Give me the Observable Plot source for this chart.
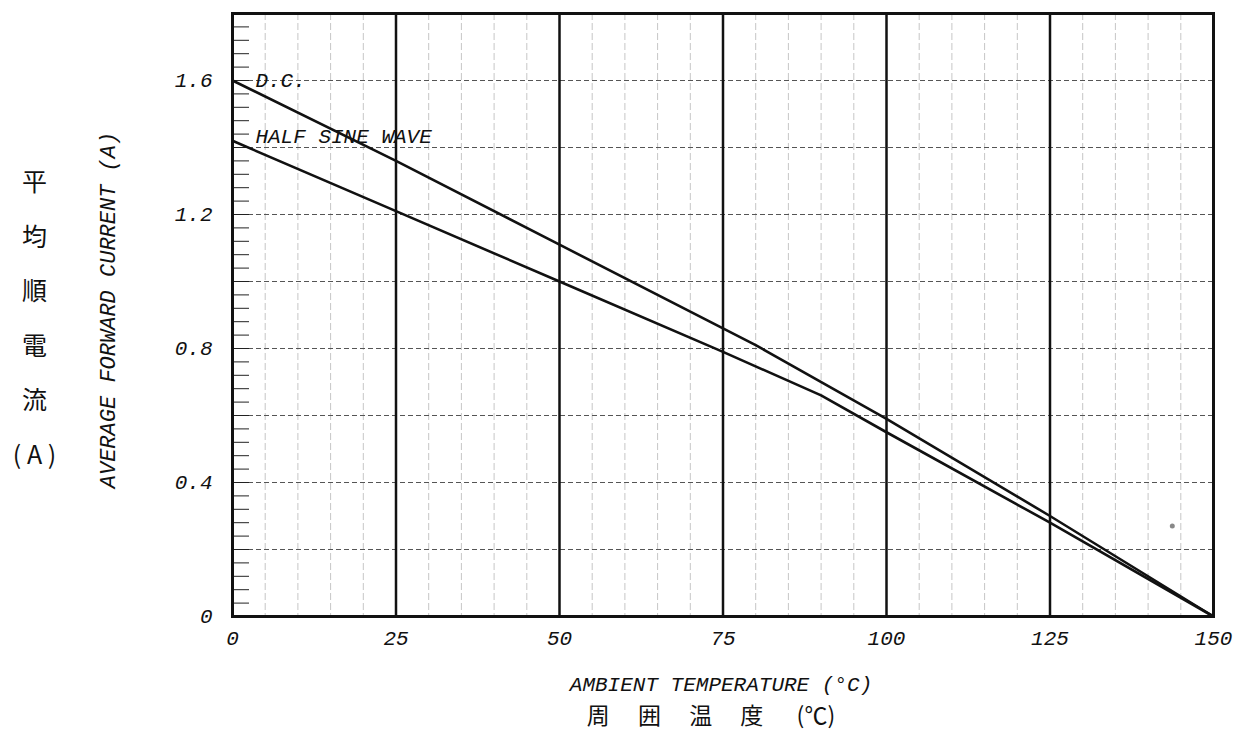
<!DOCTYPE html>
<html>
<head>
<meta charset="utf-8">
<script src="https://cdn.jsdelivr.net/npm/d3@7"></script>
<script src="https://cdn.jsdelivr.net/npm/@observablehq/plot@0.6"></script>
<style>
  html, body { margin: 0; padding: 0; background: white; }
  #chart svg { overflow: hidden; }
</style>
</head>
<body>
<div id="chart"></div>
<script>
// ---- data ----
const dcTemps = [0, 25, 50, 75, 80, 100, 125, 150];
const dcCurrent = [1.60, 1.36, 1.11, 0.86, 0.81, 0.59, 0.30, 0.00];
const halfTemps = [0, 25, 50, 75, 90, 100, 125, 150];
const halfCurrent = [1.42, 1.21, 1.00, 0.79, 0.66, 0.55, 0.28, 0.00];
const xTickValues = [0, 25, 50, 75, 100, 125, 150];
const yTickValues = [0, 0.4, 0.8, 1.2, 1.6];
const majorTemps = [25, 50, 75, 100, 125];
const minorTemps = d3.range(5, 150, 5).filter(d => d % 25 !== 0);
const gridCurrents = [0.2, 0.4, 0.6, 0.8, 1.0, 1.2, 1.4, 1.6];
const edgeTicks = d3.range(0, 1.8001, 0.04).map(d => +d.toFixed(2));
const strayDot = [{t: 143.7, i: 0.27}];
const seriesLabels = [{t: 3.5, i: 1.6, s: "D.C."}, {t: 3.5, i: 1.435, s: "HALF SINE WAVE"}];

const dc = dcTemps.map((t, k) => ({t, i: dcCurrent[k]}));
const half = halfTemps.map((t, k) => ({t, i: halfCurrent[k]}));

const mono = "'Liberation Mono', 'DejaVu Sans Mono', monospace";
const cjk = "'Noto Sans CJK JP', 'Noto Sans CJK SC', sans-serif";

const plot = Plot.plot({
  width: 1248,
  height: 733,
  marginLeft: 232,
  marginRight: 35,
  marginTop: 13,
  marginBottom: 117,
  style: {background: "white", fontFamily: mono, fontStyle: "italic", fontSize: "21px", color: "#111"},
  x: {domain: [0, 150]},
  y: {domain: [0, 1.8]},
  marks: [
    Plot.ruleX(minorTemps, {stroke: "#c6c6c6", strokeWidth: 1, strokeDasharray: "7,3"}),
    Plot.ruleY(gridCurrents, {stroke: "#555", strokeWidth: 1, strokeDasharray: "5,3"}),
    Plot.ruleX(majorTemps, {stroke: "#111", strokeWidth: 2.5}),
    Plot.axisY({ticks: edgeTicks, tickSize: -17, tickFormat: () => "", label: null, stroke: "#222", strokeWidth: 1}),
    Plot.axisX({ticks: xTickValues, tickSize: 0, tickPadding: 14, label: null, fontSize: 21, fontStyle: "italic"}),
    Plot.axisY({ticks: yTickValues, tickSize: 0, tickPadding: 20, label: null, fontSize: 21, fontStyle: "italic",
      tickFormat: d => d === 0 ? "0" : d.toFixed(1)}),
    Plot.line(dc, {x: "t", y: "i", stroke: "#111", strokeWidth: 2.6}),
    Plot.line(half, {x: "t", y: "i", stroke: "#111", strokeWidth: 2.6}),
    Plot.dot(strayDot, {x: "t", y: "i", r: 2.5, fill: "#888", stroke: null}),
    Plot.text(seriesLabels, {x: "t", y: "i", text: "s", textAnchor: "start", lineAnchor: "middle", fontSize: 21, fontStyle: "italic", fill: "#111"}),
    Plot.frame({stroke: "#111", strokeWidth: 3}),
    // axis titles
    Plot.text(["AMBIENT TEMPERATURE (°C)"], {frameAnchor: "bottom", textAnchor: "middle", lineAnchor: "middle", dx: -2, dy: 68, fontSize: 21, fontStyle: "italic", fill: "#111"}),
    Plot.text(["周　 囲　 温　 度　  (℃)"], {frameAnchor: "bottom", textAnchor: "middle", lineAnchor: "middle", dx: -12, dy: 100, fontSize: 23, fontFamily: cjk, fontStyle: "normal", fill: "#111"}),
    Plot.text(["AVERAGE FORWARD CURRENT (A)"], {frameAnchor: "left", textAnchor: "middle", dx: -125, dy: -5, rotate: -90, fontSize: 22, fontStyle: "italic", fill: "#111"}),
    Plot.text(["平\n均\n順\n電\n流\n( A )"], {frameAnchor: "left", textAnchor: "middle", dx: -198, dy: -5, lineHeight: 2.18, fontSize: 25, fontFamily: cjk, fontStyle: "normal", fill: "#111"}),
    Plot.text(["NSD05A40"], {frameAnchor: "top-right", dx: -10, dy: -20, textAnchor: "end", lineAnchor: "middle", fontSize: 21, fontStyle: "normal", fill: "#111"})
  ]
});
document.getElementById("chart").appendChild(plot);
</script>
</body>
</html>
